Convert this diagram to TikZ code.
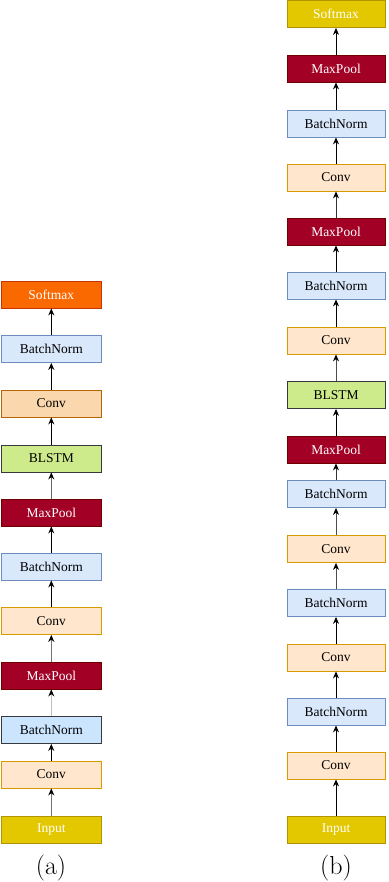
\documentclass[tikz,border=0pt]{standalone}
\usepackage{fontspec}
\newfontfamily\boxfont{Liberation Serif}
\usetikzlibrary{arrows.meta}
\definecolor{convF}{HTML}{FFE6CC}\definecolor{convD}{HTML}{D79B00}
\definecolor{convbF}{HTML}{FAD7AC}\definecolor{convbD}{HTML}{B46504}
\definecolor{bnF}{HTML}{DAE8FC}\definecolor{bnD}{HTML}{6C8EBF}
\definecolor{bnbF}{HTML}{CCE5FF}\definecolor{bnbD}{HTML}{36393D}
\definecolor{mpF}{HTML}{A20025}\definecolor{mpD}{HTML}{6F0000}
\definecolor{lstmF}{HTML}{CDEB8B}\definecolor{lstmD}{HTML}{36393D}
\definecolor{inF}{HTML}{E3C800}\definecolor{inD}{HTML}{B09500}
\definecolor{smF}{HTML}{FA6800}\definecolor{smD}{HTML}{C73500}
\begin{document}
\begin{tikzpicture}[x=1pt,y=-1pt,
  blk/.style={draw, rectangle, minimum height=27pt, inner sep=0pt, line width=0.8pt,
    font=\boxfont\fontsize{13.5}{15}\selectfont},
  wa/.style={blk, minimum width=100pt},
  wb/.style={blk, minimum width=98pt},
  conv/.style={fill=convF, draw=convD, text=black},
  convb/.style={fill=convbF, draw=convbD, text=black},
  bn/.style={fill=bnF, draw=bnD, text=black},
  bnb/.style={fill=bnbF, draw=bnbD, text=black},
  mp/.style={fill=mpF, draw=mpD, text=white},
  lstm/.style={fill=lstmF, draw=lstmD, text=black},
  inp/.style={fill=inF, draw=inD, text=white},
  sm/.style={fill=smF, draw=smD, text=white},
  arr/.style={line width=0.9pt, -{Stealth[length=7pt,width=6pt,color=black]}},
  lbl/.style={inner sep=0pt, font=\fontsize{26}{28}\selectfont}
]
\useasboundingbox (0,0) rectangle (388,882);

% column (a)
\node[wa,inp]  (a1)  at (51.3,829.5) {Input};
\node[wa,conv] (a2)  at (51.3,774.5) {Conv};
\node[wa,bnb]  (a3)  at (51.3,730)   {BatchNorm};
\node[wa,mp]   (a4)  at (51.3,675.5) {MaxPool};
\node[wa,conv] (a5)  at (51.3,621)   {Conv};
\node[wa,bn]   (a6)  at (51.3,566.5) {BatchNorm};
\node[wa,mp]   (a7)  at (51.3,512.5) {MaxPool};
\node[wa,lstm] (a8)  at (51.3,458.5) {BLSTM};
\node[wa,convb](a9)  at (51.3,403.5) {Conv};
\node[wa,bn]   (a10) at (51.3,349)   {BatchNorm};
\node[wa,sm]   (a11) at (51.3,294.5) {Softmax};

\draw[arr,draw=black!55] (a1) -- (a2);
\draw[arr] (a2) -- (a3);
\draw[arr,draw=black!25] (a3) -- (a4);
\draw[arr,draw=black!55] (a4) -- (a5);
\draw[arr] (a5) -- (a6);
\draw[arr] (a6) -- (a7);
\draw[arr,draw=black!60] (a7) -- (a8);
\draw[arr] (a8) -- (a9);
\draw[arr] (a9) -- (a10);
\draw[arr] (a10) -- (a11);

% column (b)
\node[wb,inp]  (b1)  at (336,829.5) {Input};
\node[wb,conv] (b2)  at (336,765.5) {Conv};
\node[wb,bn]   (b3)  at (336,711.5) {BatchNorm};
\node[wb,conv] (b4)  at (336,657.5) {Conv};
\node[wb,bn]   (b5)  at (336,603)   {BatchNorm};
\node[wb,conv] (b6)  at (336,549)   {Conv};
\node[wb,bn]   (b7)  at (336,494)   {BatchNorm};
\node[wb,mp]   (b8)  at (336,449.5) {MaxPool};
\node[wb,lstm] (b9)  at (336,395)   {BLSTM};
\node[wb,conv] (b10) at (336,340.5) {Conv};
\node[wb,bn]   (b11) at (336,285.5) {BatchNorm};
\node[wb,mp]   (b12) at (336,231.5) {MaxPool};
\node[wb,conv] (b13) at (336,177.5) {Conv};
\node[wb,bn]   (b14) at (336,123.5) {BatchNorm};
\node[wb,mp]   (b15) at (336,68.5)  {MaxPool};
\node[wb,inp]  (b16) at (336,14)    {Softmax};

\draw[arr] (b1) -- (b2);
\draw[arr] (b2) -- (b3);
\draw[arr] (b3) -- (b4);
\draw[arr] (b4) -- (b5);
\draw[arr,draw=black!70] (b5) -- (b6);
\draw[arr,draw=black!70] (b6) -- (b7);
\draw[arr,draw=black!80] (b7) -- (b8);
\draw[arr] (b8) -- (b9);
\draw[arr,draw=black!70] (b9) -- (b10);
\draw[arr] (b10) -- (b11);
\draw[arr] (b11) -- (b12);
\draw[arr,draw=black!80] (b12) -- (b13);
\draw[arr] (b13) -- (b14);
\draw[arr] (b14) -- (b15);
\draw[arr] (b15) -- (b16);

\node[lbl] (la) at (51,868.5) {(a)};
\node[lbl] (lb) at (336,868.5) {(b)};
\end{tikzpicture}
\end{document}
